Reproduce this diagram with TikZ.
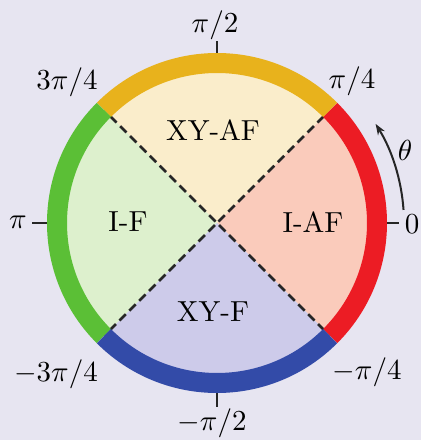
\documentclass[tikz,border=0pt]{standalone}
\usetikzlibrary{arrows.meta}
\definecolor{bg}{HTML}{E7E5F1}
\definecolor{fyel}{HTML}{FAEDCB}
\definecolor{fred}{HTML}{FACBBB}
\definecolor{fgrn}{HTML}{DDF0CD}
\definecolor{fblu}{HTML}{CDCBEA}
\definecolor{ryel}{HTML}{E8B21C}
\definecolor{rred}{HTML}{EC1C24}
\definecolor{rgrn}{HTML}{5BBF36}
\definecolor{rblu}{HTML}{334BA8}
\tikzset{
  lbl/.style={scale=2.9, inner sep=0pt},
  ring/.style={line width=20pt},
  divider/.style={line width=2.5pt, dash pattern=on 9pt off 5pt, black!85},
  tick/.style={line width=2pt, black!85},
}
\begin{document}
\begin{tikzpicture}[x=1pt,y=1pt]
\fill[bg] (0,0) rectangle (421,440);
\useasboundingbox (0,0) rectangle (421,440);
\coordinate (c) at (217,217);
% sectors
\fill[fred] (c) -- ++(-45:152) arc (-45:45:152) -- cycle;
\fill[fyel] (c) -- ++(45:152) arc (45:135:152) -- cycle;
\fill[fgrn] (c) -- ++(135:152) arc (135:225:152) -- cycle;
\fill[fblu] (c) -- ++(225:152) arc (225:315:152) -- cycle;
% dividers
\draw[divider] ([shift={(45:151)}]c) -- ([shift={(225:151)}]c);
\draw[divider] ([shift={(135:151)}]c) -- ([shift={(315:151)}]c);
% ticks
\draw[tick] ([shift={(0:165)}]c) -- ([shift={(0:182)}]c);
\draw[tick] ([shift={(90:165)}]c) -- ([shift={(90:182)}]c);
\draw[tick] ([shift={(180:165)}]c) -- ([shift={(180:185)}]c);
\draw[tick] ([shift={(270:165)}]c) -- ([shift={(270:184)}]c);
% ring
\draw[ring, rred] ([shift={(-45:160)}]c) arc (-45:45:160);
\draw[ring, ryel] ([shift={(45:160)}]c) arc (45:135:160);
\draw[ring, rgrn] ([shift={(135:160)}]c) arc (135:225:160);
\draw[ring, rblu] ([shift={(225:160)}]c) arc (225:315:160);
% theta arrow
\draw[line width=2pt, black!85, -{Stealth[length=11pt,width=8pt]}] ([shift={(4:187)}]c) arc (4:32:187);
\node[lbl] (th) at (405,290) {$\theta$};
% region labels
\node[lbl] (xyaf) at (213,310) {XY-AF};
\node[lbl] (iaf) at (313,218) {I-AF};
\node[lbl] (if) at (128,218) {I-F};
\node[lbl] (xyf) at (213,128) {XY-F};
% angle labels
\node[lbl] (a0) at (412,216) {$0$};
\node[lbl] (a90) at (215,415) {$\pi/2$};
\node[lbl] (a180) at (18,218) {$\pi$};
\node[lbl] (a270) at (212,17) {$-\pi/2$};
\node[lbl] (a45) at (352,359) {$\pi/4$};
\node[lbl] (a135) at (67,358) {$3\pi/4$};
\node[lbl] (a225) at (56,66) {$-3\pi/4$};
\node[lbl] (a315) at (367,68) {$-\pi/4$};
\end{tikzpicture}
\end{document}
